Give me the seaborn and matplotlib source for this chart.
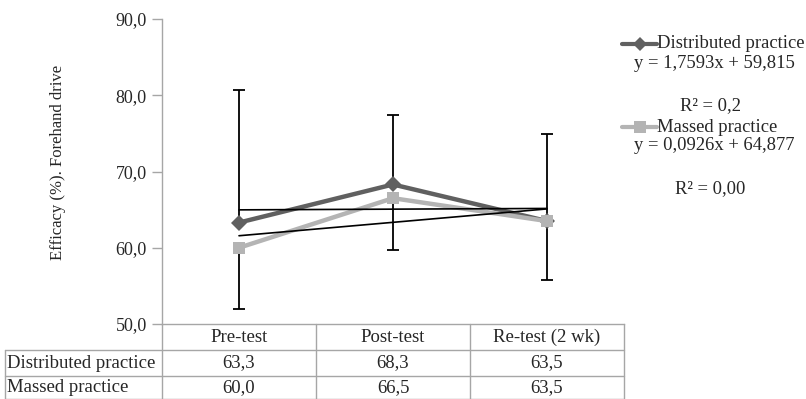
import matplotlib
matplotlib.use("Agg")
import matplotlib.pyplot as plt
from matplotlib.lines import Line2D
from matplotlib.ticker import FuncFormatter, MultipleLocator
import seaborn as sns
import numpy as np
import pandas as pd

# data
phases = ["Pre-test", "Post-test", "Re-test (2 wk)"]
distributed = [63.3, 68.3, 63.5]
massed = [60.0, 66.5, 63.5]
distributed_err_up = [17.4, 9.1, 11.4]
massed_err_down = [8.0, 6.8, 7.7]
trend_distributed = (1.7593, 59.815)
trend_massed = (0.0926, 64.877)
labels = ["Distributed practice", "Massed practice"]
equations = ["y = 1,7593x + 59,815", "y = 0,0926x + 64,877"]
r2_texts = ["R² = 0,2", "R² = 0,00"]

W, H = 806, 399
sns.set_style("white")
plt.rcParams["font.family"] = ["Liberation Serif", "DejaVu Serif"]

dark = "#606060"
light = "#b4b4b4"
grid_c = "#a6a6a6"


def fx(x):
    return x / W


def fy(y):
    return 1 - y / H


def comma(v, _):
    return f"{v:.1f}".replace(".", ",")


fig = plt.figure(figsize=(W / 100, H / 100), dpi=100)
ax = fig.add_axes([fx(162), fy(324), fx(624) - fx(162), fy(19) - fy(324)])

df = pd.DataFrame({
    "pos": list(range(3)) * 2,
    "value": distributed + massed,
    "series": [labels[0]] * 3 + [labels[1]] * 3,
})
pos = np.arange(3)

# error bars (one-sided, as in the original)
ax.errorbar(pos, distributed, yerr=[np.zeros(3), distributed_err_up], fmt="none",
            ecolor="black", elinewidth=1.3, capsize=4, capthick=1.3, zorder=2)
ax.errorbar(pos, massed, yerr=[massed_err_down, np.zeros(3)], fmt="none",
            ecolor="black", elinewidth=1.3, capsize=4, capthick=1.3, zorder=2)

sns.lineplot(data=df, x="pos", y="value", hue="series", style="series",
             palette={labels[0]: dark, labels[1]: light},
             markers={labels[0]: "D", labels[1]: "s"}, dashes=False,
             linewidth=3.2, markersize=8, markeredgewidth=0, legend=False,
             ax=ax, zorder=3)

# linear trendlines (x = 1..3)
xs = np.array([1, 2, 3])
for slope, icpt in [trend_distributed, trend_massed]:
    ax.plot(xs - 1, slope * xs + icpt, color="black", linewidth=1.2, zorder=4)

ax.set_xlim(-0.5, 2.5)
ax.set_ylim(50, 90)
ax.yaxis.set_major_locator(MultipleLocator(10))
ax.yaxis.set_major_formatter(FuncFormatter(comma))
ax.set_xticks([])
ax.set_xlabel("")
ax.set_ylabel("")
ax.tick_params(axis="y", left=True, length=7, width=1, color=grid_c,
               labelsize=13, pad=4)
for side in ["top", "right"]:
    ax.spines[side].set_visible(False)
for side in ["left", "bottom"]:
    ax.spines[side].set_color(grid_c)
    ax.spines[side].set_linewidth(1)

fig.text(fx(58), fy(162), "Efficacy (%). Forehand drive", rotation=90,
         ha="center", va="center", fontsize=12)

# data table below the axis
def hline(y, x0, x1):
    fig.add_artist(Line2D([fx(x0), fx(x1)], [fy(y), fy(y)], color=grid_c,
                          linewidth=1, transform=fig.transFigure))


def vline(x, y0, y1):
    fig.add_artist(Line2D([fx(x), fx(x)], [fy(y0), fy(y1)], color=grid_c,
                          linewidth=1, transform=fig.transFigure))


col_edges = [162, 316, 470, 624]
col_mid = [239, 393, 547]
for x in col_edges:
    vline(x, 324, 399)
vline(5, 350, 399)
hline(350, 5, 624)
hline(376, 5, 624)
hline(398.5, 5, 624)

for i, name in enumerate(phases):
    fig.text(fx(col_mid[i]), fy(337), name, ha="center", va="center", fontsize=13.5)
for r, (lab, vals) in enumerate(zip(labels, [distributed, massed])):
    yc = 363 + r * 25
    fig.text(fx(7), fy(yc), lab, ha="left", va="center", fontsize=13.5)
    for i, v in enumerate(vals):
        fig.text(fx(col_mid[i]), fy(yc), comma(v, None), ha="center",
                 va="center", fontsize=13.5)

# legend with trendline equations
leg_rows = [(44, 64, 106), (127, 146, 189)]
for k, (ly, ey, ry) in enumerate(leg_rows):
    color = dark if k == 0 else light
    mk = "D" if k == 0 else "s"
    fig.add_artist(Line2D([fx(622), fx(657)], [fy(ly), fy(ly)], color=color,
                          linewidth=3, transform=fig.transFigure))
    fig.add_artist(Line2D([fx(640)], [fy(ly)], color=color, marker=mk,
                          markersize=7 if k == 0 else 8, markeredgewidth=0,
                          transform=fig.transFigure))
    fig.text(fx(657), fy(ly), labels[k], ha="left", va="center", fontsize=13.4)
    fig.text(fx(714), fy(ey), equations[k], ha="center", va="center", fontsize=13.4)
    fig.text(fx(710), fy(ry), r2_texts[k], ha="center", va="center", fontsize=13.4)

fig.savefig("out.png", dpi=100)
